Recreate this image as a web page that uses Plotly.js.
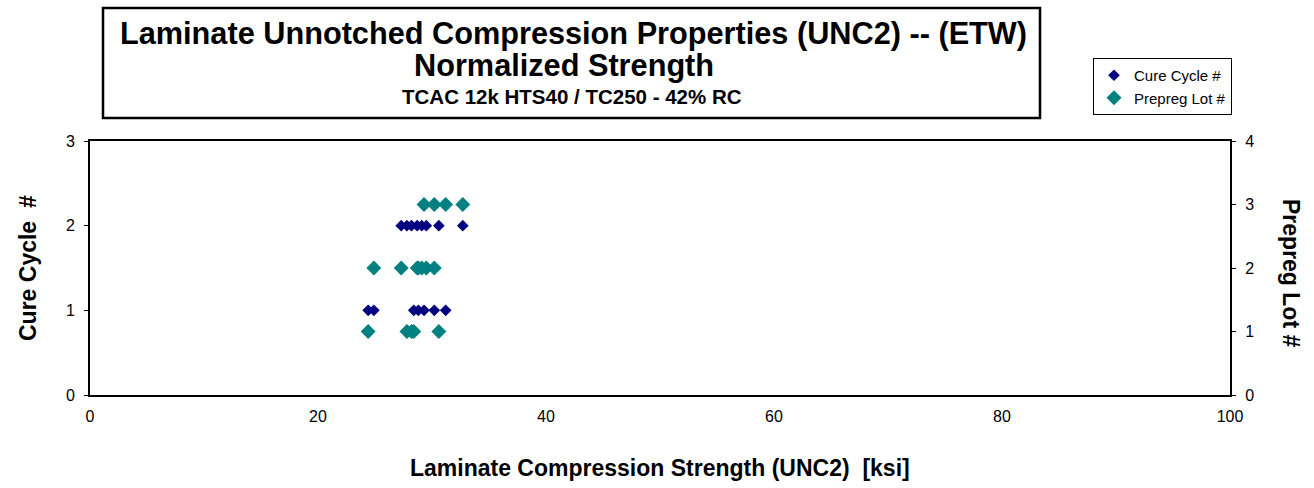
<!DOCTYPE html>
<html>
<head>
<meta charset="utf-8">
<script src="https://cdn.plot.ly/plotly-3.0.1.min.js"></script>
<style>html,body{margin:0;padding:0;background:#fff}#chart{width:1314px;height:488px}</style>
</head>
<body>
<div id="chart"></div>
<script>
// Cure cycle data (left axis)
const cureX = [24.4, 24.9, 28.4, 28.8, 29.3, 30.2, 31.2,
               27.3, 27.8, 28.2, 28.7, 29.1, 29.5, 30.6, 32.7];
const cureY = [1, 1, 1, 1, 1, 1, 1,
               2, 2, 2, 2, 2, 2, 2, 2];
// Prepreg lot data (right axis)
const lotX = [24.4, 27.8, 28.2, 28.4, 30.6,
              24.9, 27.3, 28.7, 28.8, 29.1, 29.5, 30.2,
              29.3, 30.2, 31.2, 32.7];
const lotY = [1, 1, 1, 1, 1,
              2, 2, 2, 2, 2, 2, 2,
              3, 3, 3, 3];
const xTicks = [0, 20, 40, 60, 80, 100];
const yTicks = [0, 1, 2, 3];
const y2Ticks = [0, 1, 2, 3, 4];

const titleLines = [
  "Laminate Unnotched Compression Properties (UNC2) -- (ETW)",
  "Normalized Strength",
  "TCAC 12k HTS40 / TC250 - 42% RC"
];

const L = 90, R = 1230, T = 141, B = 395;
const px = v => (v - L) / (R - L);
const py = v => (B - v) / (B - T);

const traces = [
  {x: cureX, y: cureY, type: 'scatter', mode: 'markers', name: 'Cure Cycle #',
   marker: {symbol: 'diamond', size: 9, color: '#000080'}, yaxis: 'y'},
  {x: lotX, y: lotY, type: 'scatter', mode: 'markers', name: 'Prepreg Lot #',
   marker: {symbol: 'diamond', size: 11.5, color: '#008080'}, yaxis: 'y2'}
];

const sans = 'Liberation Sans, Arial, sans-serif';
const axFont = {family: sans, size: 16, color: '#000'};

function ann(text, x, y, size, angle) {
  return {text: text, xref: 'paper', yref: 'paper', x: px(x), y: py(y),
          xanchor: 'center', yanchor: 'middle', showarrow: false, textangle: angle || 0,
          font: {family: sans, size: size, color: '#000'}};
}

const layout = {
  width: 1314, height: 488,
  margin: {l: L, r: 1314 - R, t: T, b: 488 - B, pad: 0},
  paper_bgcolor: '#fff', plot_bgcolor: '#fff',
  showlegend: true,
  legend: {x: px(1093), y: py(58), xanchor: 'left', yanchor: 'top',
           bordercolor: '#000', borderwidth: 1, bgcolor: '#fff',
           font: {family: sans, size: 15, color: '#000'},
           tracegroupgap: 7, itemwidth: 30},
  xaxis: {range: [0, 100], tickvals: xTicks, ticks: '', showgrid: false, zeroline: false,
          showline: true, linecolor: '#000', linewidth: 2, mirror: true,
          tickfont: axFont, ticklabelstandoff: 6, fixedrange: true},
  yaxis: {range: [0, 3], tickvals: yTicks, ticks: 'outside', ticklen: 4, tickcolor: '#000',
          showgrid: false, zeroline: false, showline: true, linecolor: '#000', linewidth: 2,
          tickfont: axFont, ticklabelstandoff: 6, fixedrange: true},
  yaxis2: {range: [0, 4], tickvals: y2Ticks, overlaying: 'y', side: 'right', ticks: 'outside',
           ticklen: 4, tickcolor: '#000', showgrid: false, zeroline: false, showline: true,
           linecolor: '#000', linewidth: 2, tickfont: axFont, ticklabelstandoff: 6, fixedrange: true},
  shapes: [
    {type: 'rect', xref: 'paper', yref: 'paper', x0: px(103), x1: px(1040), y0: py(118), y1: py(8),
     line: {color: '#000', width: 2.5}, fillcolor: 'rgba(0,0,0,0)'}
  ],
  annotations: [
    ann('<b>' + titleLines[0] + '</b>', 573, 33, 30.7),
    ann('<b>' + titleLines[1] + '</b>', 564, 65, 30.7),
    ann('<b>' + titleLines[2] + '</b>', 572, 96, 20.5),
    ann('<b>Laminate Compression Strength (UNC2)  [ksi]</b>', 660, 468, 23),
    ann('<b>Cure Cycle  #</b>', 28, 268, 23, -90),
    ann('<b>Prepreg Lot #</b>', 1291, 273, 23, 90)
  ]
};

Plotly.newPlot('chart', traces, layout, {staticPlot: true, displayModeBar: false});
</script>
</body>
</html>
